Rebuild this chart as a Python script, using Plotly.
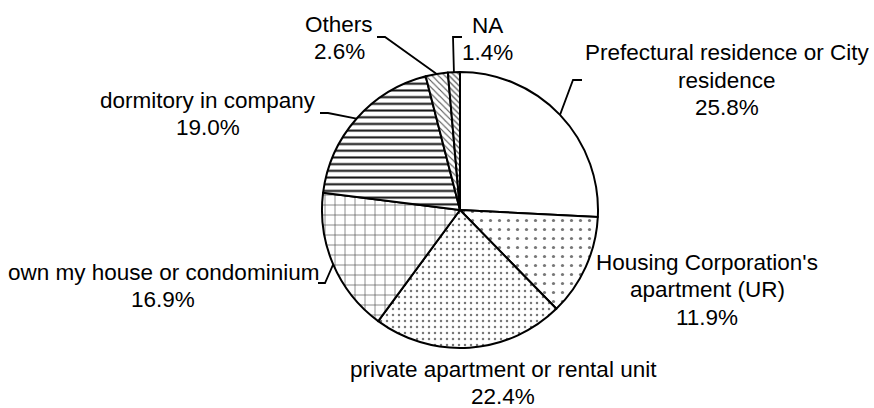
import math
import plotly.graph_objects as go

# ---- data ----
categories = [
    "Prefectural residence or City<br>residence",
    "Housing Corporation's<br>apartment (UR)",
    "private apartment or rental unit",
    "own my house or condominium",
    "dormitory in company",
    "Others",
    "NA",
]
values = [25.8, 11.9, 22.4, 16.9, 19.0, 2.6, 1.4]

# ---- layout constants (pixels in 874x408 canvas) ----
W, H = 874, 408
CX, CY, R = 460, 210, 138
LINE = 27.5
FONT = dict(family="Liberation Sans, Arial", size=22.5, color="black")

patterns = ["", ".", ".", "+", "-", "\\", "\\"]
pat_sizes = [8, 9, 6, 10, 6.7, 4.5, 4]
pat_solid = [0.2, 0.1, 0.14, 0.12, 0.3, 0.25, 0.3]
pat_fg = ["#000", "#777", "#777", "#444", "#111", "#555", "#555"]

# label block: center x, y of first line (px); leader lines (elbow, end) or None
label_pos = [(727, 53), (707, 262), (503, 369), (163, 272), (208, 100), (339, 24), (487, 25)]
leaders = [
    [(573, 80), (582, 80)],
    None,
    None,
    [(325, 283), (318, 283)],
    [(328, 113), (320, 113)],
    [(385, 37), (377, 37)],
    [(453, 37), (462, 37)],
]


def px(x):
    return x / W


def py(y):
    return 1 - y / H


fig = go.Figure(
    go.Pie(
        labels=categories,
        values=values,
        sort=False,
        direction="clockwise",
        rotation=0,
        textinfo="none",
        hoverinfo="label+percent",
        marker=dict(
            colors=["white"] * len(values),
            line=dict(color="black", width=2),
            pattern=dict(
                shape=patterns,
                size=pat_sizes,
                solidity=pat_solid,
                fgcolor=pat_fg,
                fgopacity=1,
                bgcolor="white",
                fillmode="overlay",
            ),
        ),
        domain=dict(x=[px(CX - R), px(CX + R)], y=[py(CY + R), py(CY - R)]),
        showlegend=False,
    )
)

total = sum(values)
cum = 0
shapes = []
annotations = []
for i, (lab, v) in enumerate(zip(categories, values)):
    mid = (cum + v / 2) / total * 2 * math.pi
    cum += v
    ax = CX + R * math.sin(mid)
    ay = CY - R * math.cos(mid)
    lx, ly = label_pos[i]
    lines = lab.split("<br>") + [f"{v:.1f}%"]
    for k, t in enumerate(lines):
        annotations.append(
            dict(
                x=px(lx), y=py(ly + k * LINE), xref="paper", yref="paper",
                text=t, showarrow=False, font=FONT,
                xanchor="center", yanchor="middle",
            )
        )
    if leaders[i]:
        pts = [(ax, ay)] + leaders[i]
        path = "M " + " L ".join(f"{px(x):.5f},{py(y):.5f}" for x, y in pts)
        shapes.append(
            dict(type="path", path=path, xref="paper", yref="paper",
                 line=dict(color="black", width=1.8))
        )

fig.update_layout(
    width=W, height=H,
    margin=dict(l=0, r=0, t=0, b=0),
    paper_bgcolor="white", plot_bgcolor="white",
    shapes=shapes, annotations=annotations,
)

fig.write_html(
    "out.html",
    config={"displayModeBar": False},
    post_script="document.body.style.margin='0';document.body.style.padding='0';",
)
